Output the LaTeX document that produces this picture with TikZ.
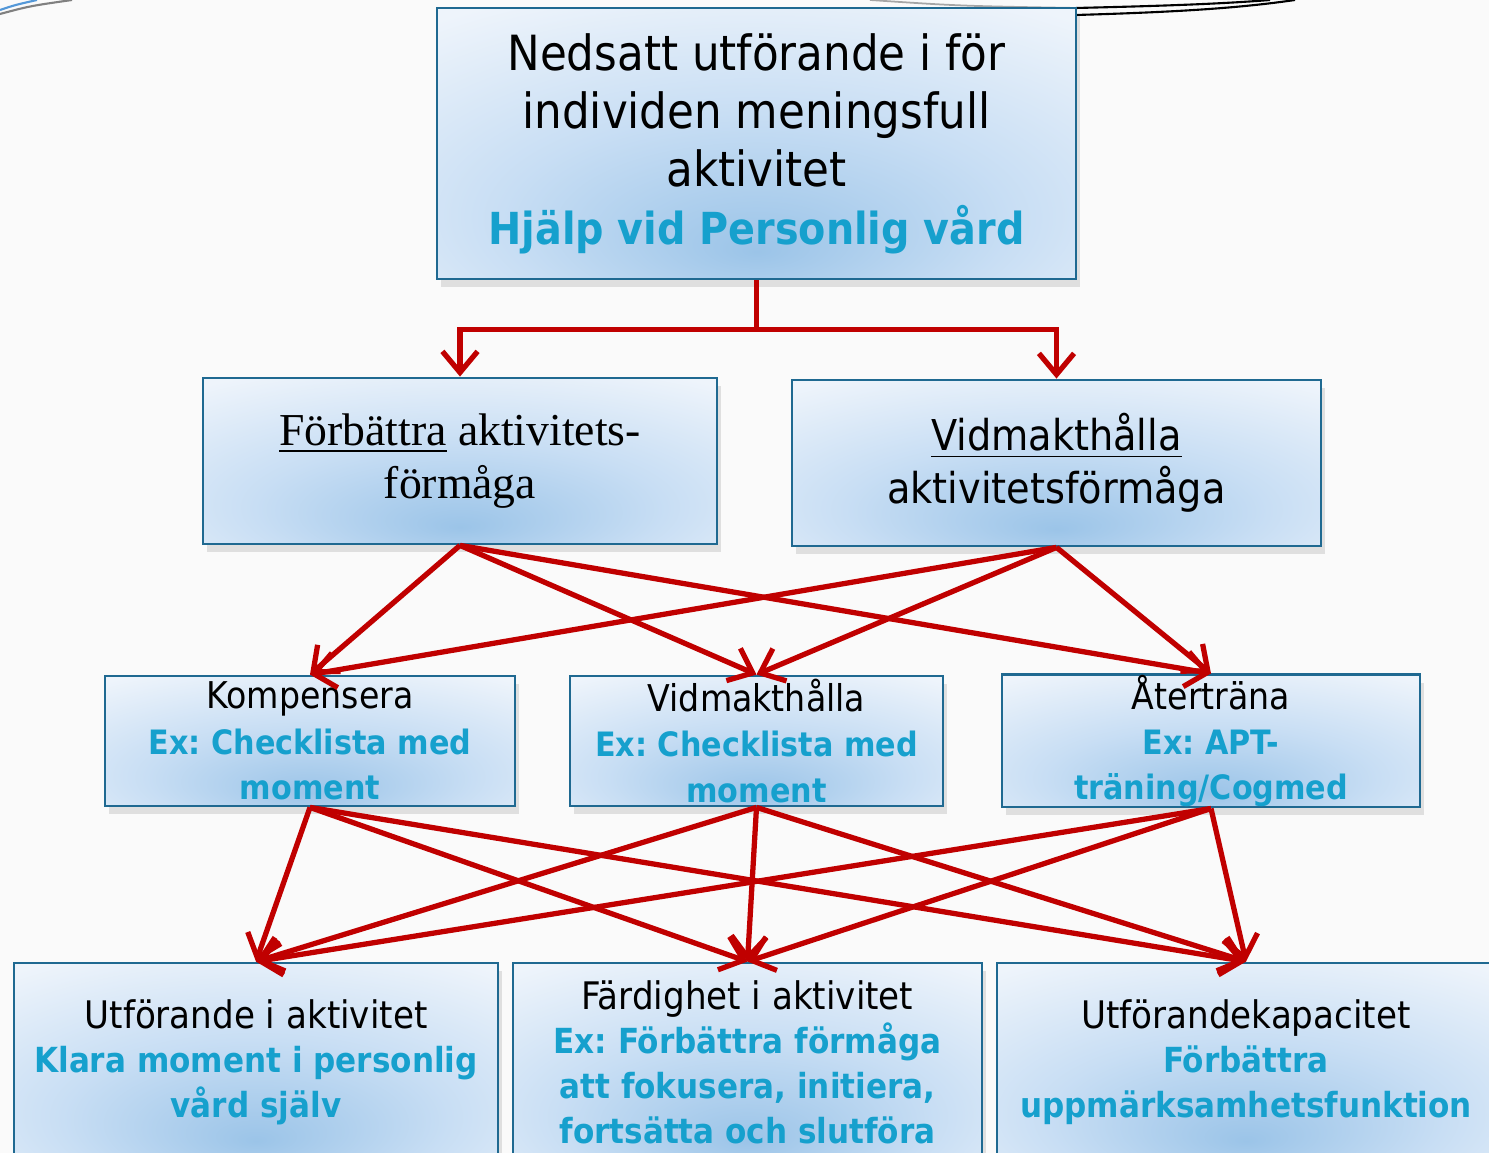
\documentclass[tikz,border=0pt]{standalone}
\usepackage{fontspec}
\setmainfont{Liberation Serif}
\newfontfamily\boxfont{DejaVu Sans Condensed}[BoldFeatures={Scale=0.91}]
\usetikzlibrary{arrows.meta,shadows}
\definecolor{linkred}{RGB}{192,0,0}
\definecolor{exblue}{RGB}{22,160,205}
\definecolor{boxedge}{RGB}{31,105,145}
\definecolor{paleblue}{RGB}{238,244,251}
\definecolor{midblue}{RGB}{200,222,244}
\definecolor{deepblue}{RGB}{155,196,232}
\pgfdeclareradialshading{boxshade}{\pgfpoint{0bp}{-20bp}}{color(0bp)=(deepblue); color(20bp)=(midblue); color(40bp)=(paleblue); color(70bp)=(paleblue)}
\newcommand{\ex}[1]{{\color{exblue}\bfseries #1}}
\frenchspacing

\begin{document}
\begin{tikzpicture}[
	box/.style={draw=boxedge, line width=0.8pt, shading=boxshade, align=center, inner sep=0pt,
		drop shadow={opacity=0.22, shadow xshift=0.25ex, shadow yshift=-0.5ex}},
	link/.style={draw=linkred, line width=1.5pt, -{Straight Barb[length=6pt,width=10pt,line width=1.5pt]}}
	]
	\clip (0,0) rectangle (14.89,-11.53);
	\fill[gray!4] (0,0) rectangle (14.89,-11.53);
	% template lines at the top
	\draw[cyan!60!blue!70, line width=0.6pt] (0,-0.10) .. controls (0.15,-0.05) .. (0.37,0);
	\draw[gray, line width=0.6pt] (0,-0.14) .. controls (0.3,-0.06) .. (0.72,0);
	\draw[gray!70, line width=0.5pt] (8.7,0) .. controls (9.6,-0.06) .. (10.76,-0.08);
	\draw[line width=0.6pt] (10.76,-0.08) .. controls (11.6,-0.06) and (12.2,-0.04) .. (12.7,0);
	\draw[line width=0.6pt] (10.76,-0.15) .. controls (11.8,-0.12) and (12.4,-0.08) .. (12.95,0);

	\node[box, minimum width=6.39cm, minimum height=2.71cm, font=\boxfont\fontsize{13.8}{16.5}\selectfont] (need) at (7.565,-1.435)
		{Nedsatt utförande i för\\individen meningsfull\\aktivitet\\\ex{Hjälp vid Personlig vård}};

	\node[box, minimum width=5.14cm, minimum height=1.66cm, font=\fontsize{13}{15}\selectfont] (better) at (4.60,-4.61)
		{\underline{Förbättra} aktivitets-\\förmåga};
	\node[box, minimum width=5.29cm, minimum height=1.66cm, font=\boxfont\fontsize{12.1}{15}\selectfont] (keep) at (10.565,-4.63)
		{\underline{Vidmakthålla}\\aktivitetsförmåga};

	\foreach \name/\x/\w/\txt in {komp/3.10/4.10/{Kompensera\\\ex{Ex: Checklista med}\\\ex{moment}},
		vidm/7.565/3.73/{Vidmakthålla\\\ex{Ex: Checklista med}\\\ex{moment}},
		ater/12.11/4.18/{Återträna\\\ex{Ex: APT-}\\\ex{träning/Cogmed}}}{
		\node[box, minimum width=\w cm, minimum height=1.30cm, font=\boxfont\fontsize{10.5}{12.9}\selectfont] (\name) at (\x,-7.41) {\txt};
	}

	\foreach \name/\x/\w/\txt in {utf/2.56/4.84/{Utförande i aktivitet\\\ex{Klara moment i personlig}\\\ex{vård själv}},
		fard/7.475/4.69/{Färdighet i aktivitet\\\ex{Ex: Förbättra förmåga}\\\ex{att fokusera, initiera,}\\\ex{fortsätta och slutföra}},
		kap/12.46/4.98/{Utförandekapacitet\\\ex{Förbättra}\\\ex{uppmärksamhetsfunktion}}}{
		\node[box, minimum width=\w cm, minimum height=1.98cm, font=\boxfont\fontsize{10.8}{12.7}\selectfont] (\name) at (\x,-10.62) {\txt};
	}

	\draw[link] (need.south) -- ++(0,-0.49) -| (better.north);
	\draw[link] (need.south) -- ++(0,-0.49) -| (keep.north);

	\foreach \a in {better,keep}
		\foreach \b in {komp,vidm,ater}
			\draw[link] (\a.south) -- (\b.north);

	\foreach \a in {komp,vidm,ater}
		\foreach \b in {utf,fard,kap}
			\draw[link] (\a.south) -- (\b.north);
\end{tikzpicture}
\end{document}
